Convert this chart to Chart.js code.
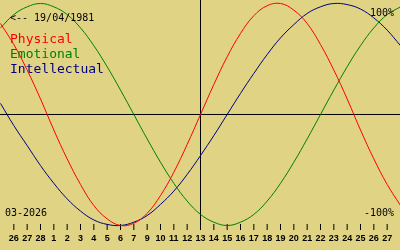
<!DOCTYPE html>
<html>
<head>
<meta charset="utf-8">
<script src="https://cdn.jsdelivr.net/npm/chart.js@4/dist/chart.umd.min.js"></script>
<style>
  html, body { margin: 0; padding: 0; background: #e0d384; }
  canvas { display: block; }
</style>
</head>
<body>
<canvas id="chart" width="400" height="250"></canvas>
<script>
// days relative to today (13/03/2026)
const days = [-15, -14, -13, -12, -11, -10, -9, -8, -7, -6, -5, -4, -3, -2, -1, 0,
              1, 2, 3, 4, 5, 6, 7, 8, 9, 10, 11, 12, 13, 14, 15];
const physical = [82, 63, 40, 14, -14, -40, -63, -82, -94, -100, -98, -89, -73, -52, -27, 0,
                  27, 52, 73, 89, 98, 100, 94, 82, 63, 40, 14, -14, -40, -63, -82];
const emotional = [78, 90, 97, 100, 97, 90, 78, 62, 43, 22, 0, -22, -43, -62, -78, -90,
                   -97, -100, -97, -90, -78, -62, -43, -22, 0, 22, 43, 62, 78, 90, 97];
const intellectual = [10, -10, -28, -46, -62, -76, -87, -95, -99, -100, -97, -91, -81, -69, -54, -37,
                      -19, 0, 19, 37, 54, 69, 81, 91, 97, 100, 99, 95, 87, 76, 62];

const tickDays = [-14, -13, -12, -11, -10, -9, -8, -7, -6, -5, -4, -3, -2, -1, 0,
                  1, 2, 3, 4, 5, 6, 7, 8, 9, 10, 11, 12, 13, 14];
const tickLabels = ["26", "27", "28", "1", "2", "3", "4", "5", "6", "7", "9", "10", "11", "12", "13",
                    "14", "15", "16", "17", "18", "19", "20", "21", "22", "23", "24", "25", "26", "27"];

const birthText = "<-- 19/04/1981";
const monthText = "03-2026";
const seriesNames = ["Physical", "Emotional", "Intellectual"];
const seriesColors = ["#ff0000", "#008000", "#000080"];

const BG = "#e0d384";

const toPoints = (vals) => vals.map((v, i) => ({ x: days[i], y: v }));

const biorhythmPlugin = {
    id: "biorhythm",
    beforeDraw: (chart) => {
        let ctx = chart.ctx;
        ctx.save();
        ctx.fillStyle = BG;
        ctx.fillRect(0, 0, chart.width, chart.height);
        ctx.restore();
    },
    beforeDatasetsDraw: (chart) => {
        let ctx = chart.ctx, xs = chart.scales.x, ys = chart.scales.y;
        let y0 = ys.getPixelForValue(0);
        let x0 = xs.getPixelForValue(0);
        ctx.save();
        ctx.strokeStyle = "#000";
        ctx.lineWidth = 1;
        ctx.beginPath();
        ctx.moveTo(0, y0);
        ctx.lineTo(chart.width, y0);
        ctx.moveTo(x0, 0);
        ctx.lineTo(x0, 230);
        // day ticks
        tickDays.forEach((d) => {
            let x = xs.getPixelForValue(d);
            ctx.moveTo(x, 224);
            ctx.lineTo(x, 230);
        });
        ctx.stroke();
        ctx.restore();
    },
    afterDraw: (chart) => {
        let ctx = chart.ctx, xs = chart.scales.x;
        ctx.save();
        ctx.textBaseline = "alphabetic";

        ctx.font = "bold 9px 'Liberation Sans'";
        ctx.fillStyle = "#000";
        ctx.textAlign = "center";
        tickDays.forEach((d, i) => {
            ctx.fillText(tickLabels[i], xs.getPixelForValue(d), 241);
        });

        ctx.font = "10px 'DejaVu Sans Mono'";
        ctx.textAlign = "left";
        ctx.fillText(birthText, 10, 21);
        ctx.fillText(monthText, 5, 216);
        ctx.textAlign = "right";
        ctx.fillText("100%", 394, 16);
        ctx.fillText("-100%", 394, 216);

        ctx.font = "13px 'DejaVu Sans Mono'";
        ctx.textAlign = "left";
        seriesNames.forEach((name, i) => {
            ctx.fillStyle = seriesColors[i];
            ctx.fillText(name, 10, 43 + i * 15);
        });
        ctx.restore();
    }
};

let canvas = document.getElementById("chart");
let chart = new Chart(canvas, {
    type: "line",
    data: {
        datasets: [physical, emotional, intellectual].map((vals, i) => {
            return {
                label: seriesNames[i],
                data: toPoints(vals),
                borderColor: seriesColors[i],
                borderWidth: 1,
                pointRadius: 0,
                fill: false,
                tension: 0.4
            }
        })
    },
    options: {
        responsive: false,
        animation: false,
        devicePixelRatio: 1,
        layout: { padding: 0 },
        scales: {
            x: { type: "linear", min: -15.0375, max: 14.9625, display: false },
            y: { type: "linear", min: -122.08, max: 103.15, display: false }
        },
        plugins: {
            legend: { display: false },
            tooltip: { enabled: false }
        }
    },
    plugins: [biorhythmPlugin]
});
</script>
</body>
</html>
